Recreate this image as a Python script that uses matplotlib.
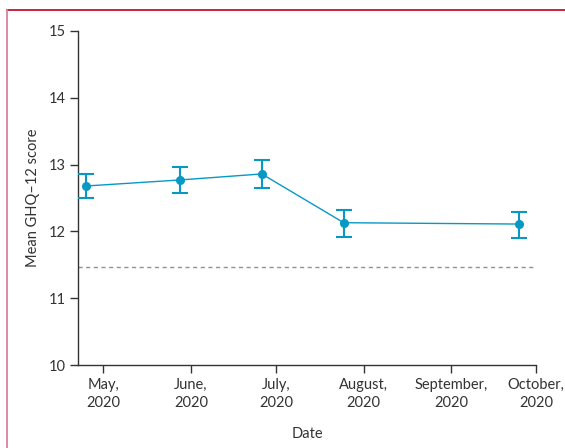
import matplotlib
matplotlib.use("Agg")
import matplotlib.pyplot as plt
from matplotlib.lines import Line2D
import numpy as np
import datetime as dt

# Data
dates = ["2020-04-25", "2020-05-28", "2020-06-26", "2020-07-25", "2020-09-25"]
means = [12.68, 12.77, 12.86, 12.13, 12.11]
lower = [12.50, 12.57, 12.65, 11.92, 11.90]
upper = [12.86, 12.96, 13.07, 12.32, 12.29]
reference_level = 11.47
tick_dates = ["2020-05-01", "2020-06-01", "2020-07-01", "2020-08-01", "2020-09-01", "2020-10-01"]
tick_labels = ["May,\n2020", "June,\n2020", "July,\n2020", "August,\n2020", "September,\n2020", "October,\n2020"]
y_ticks = [10, 11, 12, 13, 14, 15]

plt.rcParams['font.family'] = ['Lato', 'DejaVu Sans']

x = [dt.datetime.strptime(d, "%Y-%m-%d") for d in dates]
xt = [dt.datetime.strptime(d, "%Y-%m-%d") for d in tick_dates]
means_a = np.array(means)
yerr = [means_a - np.array(lower), np.array(upper) - means_a]

fig = plt.figure(figsize=(5.65, 4.48), dpi=100)
ax = fig.add_axes([78/565, 1-365/448, (536-78)/565, (365-31)/448])

color = "#0799c4"
ax.errorbar(x, means, yerr=yerr, color=color, marker='o', markersize=5.5,
            linewidth=1.0, elinewidth=1.5, capsize=5.5, capthick=1.5, zorder=3)

x0 = dt.datetime(2020, 4, 22)
x1 = dt.datetime(2020, 10, 1)
ax.plot([x0, dt.datetime(2020, 10, 1, 12)], [reference_level, reference_level], linestyle=(0, (3, 2.5)),
        color="#8a949b", linewidth=1.0, zorder=2)

fs = 10.5
ax.set_xlim(x0, x1)
ax.set_ylim(10, 15)
ax.set_xticks(xt)
ax.set_xticklabels(tick_labels, fontsize=fs, color="#333333", linespacing=1.45)
ax.set_yticks(y_ticks)
ax.set_yticklabels([str(v) for v in y_ticks], fontsize=fs, color="#333333")
ax.tick_params(axis='both', direction='out', length=6, width=1.0, color="#333333", pad=3)

for s in ['top', 'right']:
    ax.spines[s].set_visible(False)
for s in ['left', 'bottom']:
    ax.spines[s].set_color("#333333")
    ax.spines[s].set_linewidth(1.0)

ax.set_ylabel("Mean GHQ\u201312 score", fontsize=fs, color="#333333", labelpad=6)
ax.set_xlabel("Date", fontsize=fs, color="#333333", labelpad=12)

# frame lines
fig.add_artist(Line2D([7/565, 1.0], [1-10/448, 1-10/448], color="#c8102e", linewidth=1.3,
                      transform=fig.transFigure))
fig.add_artist(Line2D([7/565, 7/565], [0, 1-10/448], color="#d9819a", linewidth=1.3,
                      transform=fig.transFigure))

fig.savefig("out.png", dpi=100)
